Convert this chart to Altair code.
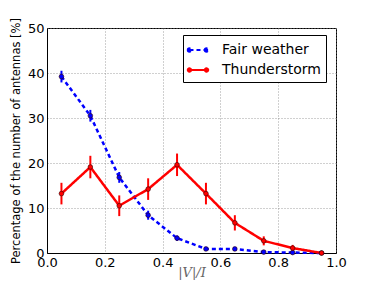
import altair as alt
import pandas as pd

x_vals = [0.05, 0.15, 0.25, 0.35, 0.45, 0.55, 0.65, 0.75, 0.85, 0.95]
fair = [39.2, 30.5, 16.8, 8.4, 3.3, 0.9, 0.9, 0.2, 0.1, 0.0]
fair_err = [1.3, 1.3, 1.2, 1.0, 0.6, 0.3, 0.3, 0.2, 0.1, 0.0]
storm = [13.2, 19.1, 10.5, 14.2, 19.6, 13.2, 6.7, 2.7, 1.1, 0.0]
storm_err = [2.4, 2.5, 2.3, 2.4, 2.5, 2.4, 1.7, 1.0, 0.7, 0.0]
series = ["Fair weather", "Thunderstorm"]
colors = ["#0000ff", "#ff0000"]

rows = []
for name, ys, es in [(series[0], fair, fair_err), (series[1], storm, storm_err)]:
    for xv, yv, ev in zip(x_vals, ys, es):
        rows.append({"x": xv, "y": yv, "lo": yv - ev, "hi": yv + ev, "series": name})
df = pd.DataFrame(rows)

xs = alt.Scale(domain=[0, 1], nice=False)
ys_ = alt.Scale(domain=[0, 50], nice=False)
legend_path = ("M-1,0L1,0"
               "M-1.2,0a0.2,0.2 0 1,0 0.4,0a0.2,0.2 0 1,0 -0.4,0"
               "M0.8,0a0.2,0.2 0 1,0 0.4,0a0.2,0.2 0 1,0 -0.4,0")
color = alt.Color("series:N", scale=alt.Scale(domain=series, range=colors),
                  legend=alt.Legend(title=None, orient="none", legendX=136, legendY=7,
                                    symbolType=legend_path, symbolSize=290,
                                    symbolStrokeWidth=2, labelFontSize=14,
                                    labelFont="DejaVu Sans", strokeColor="black",
                                    fillColor="white", padding=5, rowPadding=3,
                                    labelOffset=14, cornerRadius=0))
dash = alt.StrokeDash("series:N", scale=alt.Scale(domain=series, range=[[4, 3], [1, 0]]),
                      legend=None)

base = alt.Chart(df)
xenc = alt.X("x:Q", scale=xs,
             axis=alt.Axis(title="|V|/I", values=[0, 0.2, 0.4, 0.6, 0.8, 1.0], format=".1f",
                           titleFont="DejaVu Serif", titleFontStyle="italic",
                           titleFontWeight="normal", titleFontSize=13, titleColor="#666666",
                           titleY=13, titleBaseline="top"))
yenc = alt.Y("y:Q", scale=ys_,
             axis=alt.Axis(title="Percentage of the number of antennas [%]",
                           values=[0, 10, 20, 30, 40, 50], titleFontSize=11.5,
                           titleFontWeight="normal", titleFont="DejaVu Sans",
                           titlePadding=6))

lines = base.mark_line(strokeWidth=2.5).encode(x=xenc, y=yenc, color=color, strokeDash=dash)
bars = base.mark_rule(strokeWidth=2).encode(x="x:Q", y="lo:Q", y2="hi:Q",
                                             color=alt.Color("series:N", legend=None))
pts = base.mark_point(filled=True, size=22, opacity=1, stroke="#330000", strokeWidth=0.6).encode(
    x="x:Q", y="y:Q", fill=alt.Fill("series:N", scale=alt.Scale(domain=series, range=colors),
                                    legend=None))

chart = alt.layer(lines, bars, pts).properties(
    width=289, height=225,
    autosize=alt.AutoSizeParams(type="none"),
    padding={"left": 39, "top": 20, "right": 30, "bottom": 30},
).configure_view(stroke="black", strokeWidth=1).configure_axis(
    labelFont="DejaVu Sans", labelFontSize=13, labelColor="black", labelFlush=False,
    domainColor="black", ticks=False, labelPadding=3,
    gridColor="#888888", gridDash=[1, 2], gridWidth=0.8,
)

chart.save("out.html", embed_options={"renderer": "svg", "actions": False})
